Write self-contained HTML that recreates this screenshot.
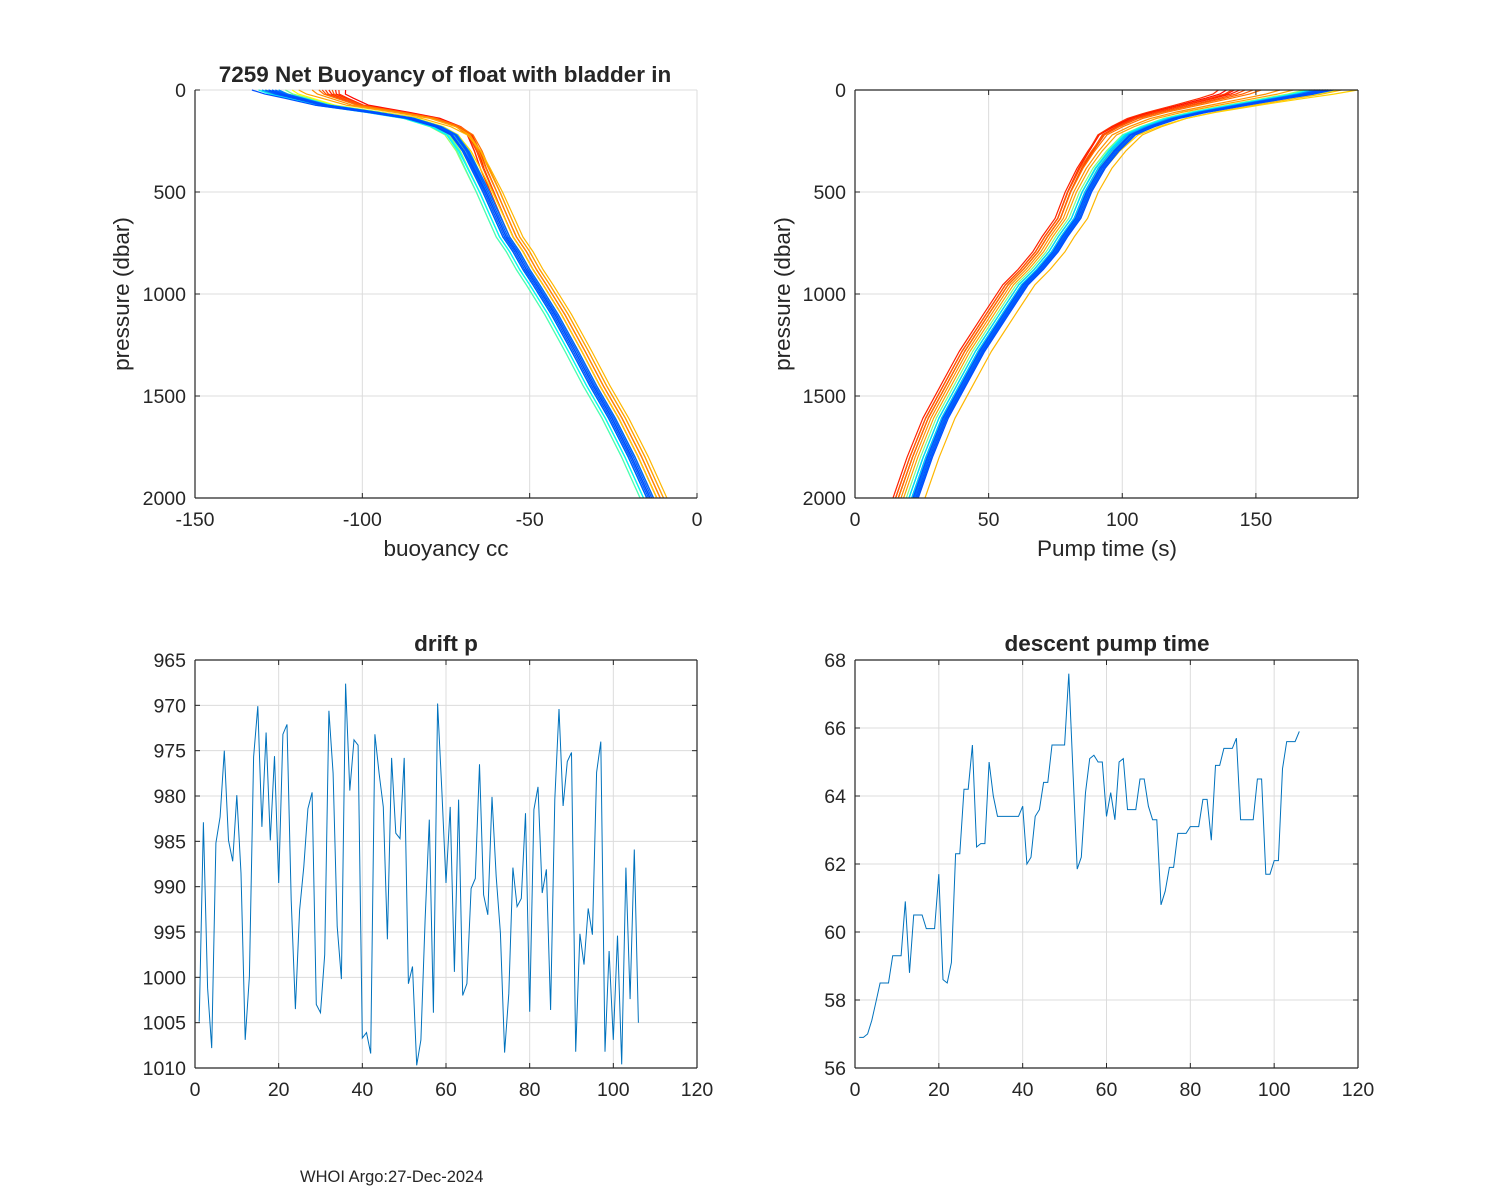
<!DOCTYPE html>
<html><head><meta charset="utf-8"><style>
html,body{margin:0;padding:0;background:#fff;width:1500px;height:1200px;overflow:hidden}
svg{display:block}
text{font-family:"Liberation Sans",Arial,sans-serif;fill:#262626}
</style></head><body>
<svg id="fig" width="1500" height="1200" viewBox="0 0 1500 1200" xmlns="http://www.w3.org/2000/svg">
<rect width="1500" height="1200" fill="#fff"/>
<text x="300" y="1182" font-size="16.5" fill="#000">WHOI Argo:27-Dec-2024</text>
</svg>
<script>
// ---- profile data (top plots) ----
const presLevels = [0, 20, 40, 74, 110, 139, 180, 220, 300, 384, 500, 629, 720, 792, 880, 955, 1100, 1282, 1450, 1609, 1800, 2000];
const buoyBase   = [-127, -124, -119, -111, -96, -85, -77, -72.5, -69, -66.5, -63, -59.5, -57, -54, -51, -48, -42.5, -36.4, -31, -25.4, -19.5, -14];
const pumpBase   = [174, 167, 158, 143, 128, 118, 109, 102, 96, 91, 86, 82, 77, 73.6, 68, 62.3, 55, 46, 39, 32.4, 26.5, 21.2];
// colour position in jet (0 = blue, 1 = red) per profile
const profColor  = [1.0, 0.98, 0.96, 0.94, 0.92, 0.9, 0.87, 0.84, 0.8, 0.77, 0.74, 0.7, 0.67, 0.63, 0.6, 0.56, 0.52, 0.48, 0.44, 0.4, 0.36, 0.33, 0.3, 0.27, 0.25, 0.22, 0.2, 0.18, 0.16, 0.14, 0.12, 0.1, 0.08, 0.06, 0.04, 0.03, 0.02, 0.01, 0.0, 0.0];
const buoySurf   = [22, 19, 17, 20, 16, 15, 18, 14, 12, 8, -2, -4, 2, 6, 4, 0, 2, -2, 0, 4, 2, -2, 0, 2, -4, 0, 2, -2, 0, 1, -1, -3, 0, 2, -1, 1, -2, 0, -6, -1];
const buoyDeep   = [2, 1, 3, 1, 2, 3, 2, 4, 3, 4, 5, 2, 1, -1, 0, -1, -2, -3, -2, -1, -3, -2, -1, 0, -2, -1, 0, -1, 1, 0, -1, 1, 0, -1, 1, 0, -1, 0.5, 0, -0.5];
const pumpSurf   = [-35, -32, -30, -38, -33, -28, -25, -22, -15, -10, 8, 14, 4, 0, 3, 6, -4, -6, -2, 2, -3, -1, 0, -4, 2, -2, 0, 3, -1, 1, 2, -2, 0, 3, 1, 4, 2, 0, 5, 3];
const pumpDeep   = [-6, -5, -7, -6, -5, -5, -6, -5, -4, -3, 5, 2, 0, 1, 2, 1, -1, -1, -2, -1, 0, -1, 0, -1, 1, 0, -1, 1, 0, 1, 2, 1, 1, 2, 1, 2, 2, 1.5, 2.5, 0.5];
// ---- bottom plots ----
const driftP = [1004.9,982.9,1001.2,1007.8,985.2,982.3,975,984.9,987.2,979.9,988.5,1006.9,999.9,975.7,970.1,983.4,973,984.9,975.6,989.6,973.2,972.1,991.5,1003.5,992.6,987.8,981.4,979.6,1003,1003.9,997.5,970.6,977.5,994.4,1000.2,967.6,979.4,973.8,974.4,1006.7,1006.1,1008.4,973.2,977.5,981.2,995.8,975.8,984.1,984.7,975.8,1000.7,998.8,1009.7,1006.9,993.7,982.6,1003.9,969.8,979.3,989.6,981.2,999.4,980.4,1002,1000.7,990.2,989.1,976.5,990.9,993.1,980.1,988.9,995.1,1008.3,1001.8,987.9,992.2,991.3,981.9,1003.8,981.5,979,990.7,988.1,1003.6,980.4,970.4,981.1,976.2,975.2,1008.2,995.2,998.6,992.4,995.3,977.4,974,1008.2,997.1,1006.9,995.4,1009.6,987.9,1002.4,985.9,1005];
const pumpTime = [56.9,56.9,57.0,57.4,57.95,58.5,58.5,58.5,59.3,59.3,59.3,60.9,58.8,60.5,60.5,60.5,60.1,60.1,60.1,61.7,58.6,58.5,59.1,62.3,62.3,64.2,64.2,65.5,62.5,62.6,62.6,65.0,64.0,63.4,63.4,63.4,63.4,63.4,63.4,63.7,62.0,62.2,63.4,63.6,64.4,64.4,65.5,65.5,65.5,65.5,67.6,64.7,61.85,62.2,64.1,65.1,65.2,65.0,65.0,63.4,64.1,63.3,65.0,65.1,63.6,63.6,63.6,64.5,64.5,63.7,63.3,63.3,60.8,61.2,61.9,61.9,62.9,62.9,62.9,63.1,63.1,63.1,63.9,63.9,62.7,64.9,64.9,65.4,65.4,65.4,65.7,63.3,63.3,63.3,63.3,64.5,64.5,61.7,61.7,62.1,62.1,64.8,65.6,65.6,65.6,65.9];
const xTicksB = [0,20,40,60,80,100,120];
const yTicksDrift = [965,970,975,980,985,990,995,1000,1005,1010];
const yTicksPump = [56,58,60,62,64,66,68];
const yTicksPres = [0,500,1000,1500,2000];
const xTicksBuoy = [-150,-100,-50,0];
const xTicksPumpT = [0,50,100,150];

const NS='http://www.w3.org/2000/svg';
const svg=document.getElementById('fig');
function el(tag,attrs,parent){const e=document.createElementNS(NS,tag);for(const k in attrs)e.setAttribute(k,attrs[k]);(parent||svg).appendChild(e);return e;}
function jet(c){const t=0.2+c*0.67;const f=v=>Math.round(255*Math.max(0,Math.min(1,v)));return 'rgb('+f(1.5-Math.abs(4*t-3))+','+f(1.5-Math.abs(4*t-2))+','+f(1.5-Math.abs(4*t-1))+')';}

function makeAxes(name,L,T,R,B,x0,x1,y0,y1,yRev,xt,yt,box){
  const g=el('g',{});
  
  
  const sx=v=>L+(v-x0)/(x1-x0)*(R-L);
  const sy=v=>yRev?T+(v-y0)/(y1-y0)*(B-T):B-(v-y0)/(y1-y0)*(B-T);
  xt.forEach(v=>{const l=el('line',{x1:sx(v),x2:sx(v),y1:T,y2:B,stroke:'#dcdcdc','stroke-width':1},g);
    });
  yt.forEach(v=>{const l=el('line',{x1:L,x2:R,y1:sy(v),y2:sy(v),stroke:'#dcdcdc','stroke-width':1},g);
    });
  if(!box){el('line',{x1:L,x2:R,y1:T,y2:T,stroke:'#dcdcdc'},g);el('line',{x1:R,x2:R,y1:T,y2:B,stroke:'#dcdcdc'},g);}
  const plot=el('g',{},g);
  
  
  const ax=el('g',{},g);
  
  
  el('line',{x1:L,x2:L,y1:T,y2:B,stroke:'#262626','stroke-width':1.2},ax);
  el('line',{x1:L,x2:R,y1:B,y2:B,stroke:'#262626','stroke-width':1.2},ax);
  if(box){el('line',{x1:R,x2:R,y1:T,y2:B,stroke:'#262626','stroke-width':1.2},ax);
    el('line',{x1:L,x2:R,y1:T,y2:T,stroke:'#262626','stroke-width':1.2},ax);}
  xt.forEach(v=>{const x=sx(v);el('line',{x1:x,x2:x,y1:B,y2:B-5,stroke:'#262626'},ax);
    if(box)el('line',{x1:x,x2:x,y1:T,y2:T+5,stroke:'#262626'},ax);
    const t=el('text',{x:x,y:B+28,'font-size':19.5,'text-anchor':'middle'},ax);t.textContent=v;
    });
  yt.forEach(v=>{const y=sy(v);el('line',{x1:L,x2:L+5,y1:y,y2:y,stroke:'#262626'},ax);
    if(box)el('line',{x1:R,x2:R-5,y1:y,y2:y,stroke:'#262626'},ax);
    const t=el('text',{x:L-9,y:y+7,'font-size':19.5,'text-anchor':'end'},ax);t.textContent=v;
    });
  return {sx,sy,plot,ax};
}
function label(txt,x,y,size,bold,rot,name){
  const t=el('text',{x:x,y:y,'font-size':size,'text-anchor':'middle'});
  if(bold){t.setAttribute('font-weight','bold');t.setAttribute('fill','#000');}
  if(rot)t.setAttribute('transform','rotate(-90 '+x+' '+y+')');
  t.textContent=txt;
  
  
}
function drawProfiles(A,base,surf,deep,nameBase){
  profColor.forEach((c,i)=>{
    const pts=presLevels.map((p,k)=>{
      const ws=Math.exp(-p/120), wd=1-ws;
      const v=base[k]+surf[i]*ws+deep[i]*wd;
      return A.sx(v).toFixed(1)+','+A.sy(p).toFixed(1);
    }).join(' ');
    const pl=el('polyline',{points:pts,fill:'none',stroke:jet(c),'stroke-width':1.2,'stroke-linejoin':'round'},A.plot);
    
    
  });
}
// top-left
const A1=makeAxes('buoyancy-axes',195,90,697,498,-150,0,0,2000,true,xTicksBuoy,yTicksPres,false);
drawProfiles(A1,buoyBase,buoySurf,buoyDeep,'buoyancy');
label('7259 Net Buoyancy of float with bladder in',445,82,22.5,true,false,'buoyancy-title');
label('buoyancy cc',446,556,22.5,false,false,'buoyancy-x-axis-title');
label('pressure (dbar)',129,294,22.5,false,true,'buoyancy-y-axis-title');
// top-right
const A2=makeAxes('pump-profile-axes',855,90,1358,498,0,188.2,0,2000,true,xTicksPumpT,yTicksPres,true);
drawProfiles(A2,pumpBase,pumpSurf,pumpDeep,'pump');
label('Pump time (s)',1107,556,22.5,false,false,'pump-x-axis-title');
label('pressure (dbar)',790,294,22.5,false,true,'pump-y-axis-title');
// bottom-left
const A3=makeAxes('drift-axes',195,660,697,1068,0,120,965,1010,true,xTicksB,yTicksDrift,true);
{const pts=driftP.map((v,i)=>A3.sx(i+1).toFixed(1)+','+A3.sy(v).toFixed(1)).join(' ');
 const pl=el('polyline',{points:pts,fill:'none',stroke:'#0072bd','stroke-width':1},A3.plot);
 }
label('drift p',446,651,22.5,true,false,'drift-title');
// bottom-right
const A4=makeAxes('descent-pump-axes',855,660,1358,1068,0,120,56,68,false,xTicksB,yTicksPump,true);
{const pts=pumpTime.map((v,i)=>A4.sx(i+1).toFixed(1)+','+A4.sy(v).toFixed(1)).join(' ');
 const pl=el('polyline',{points:pts,fill:'none',stroke:'#0072bd','stroke-width':1},A4.plot);
 }
label('descent pump time',1107,651,22.5,true,false,'descent-title');
</script>
</body></html>
